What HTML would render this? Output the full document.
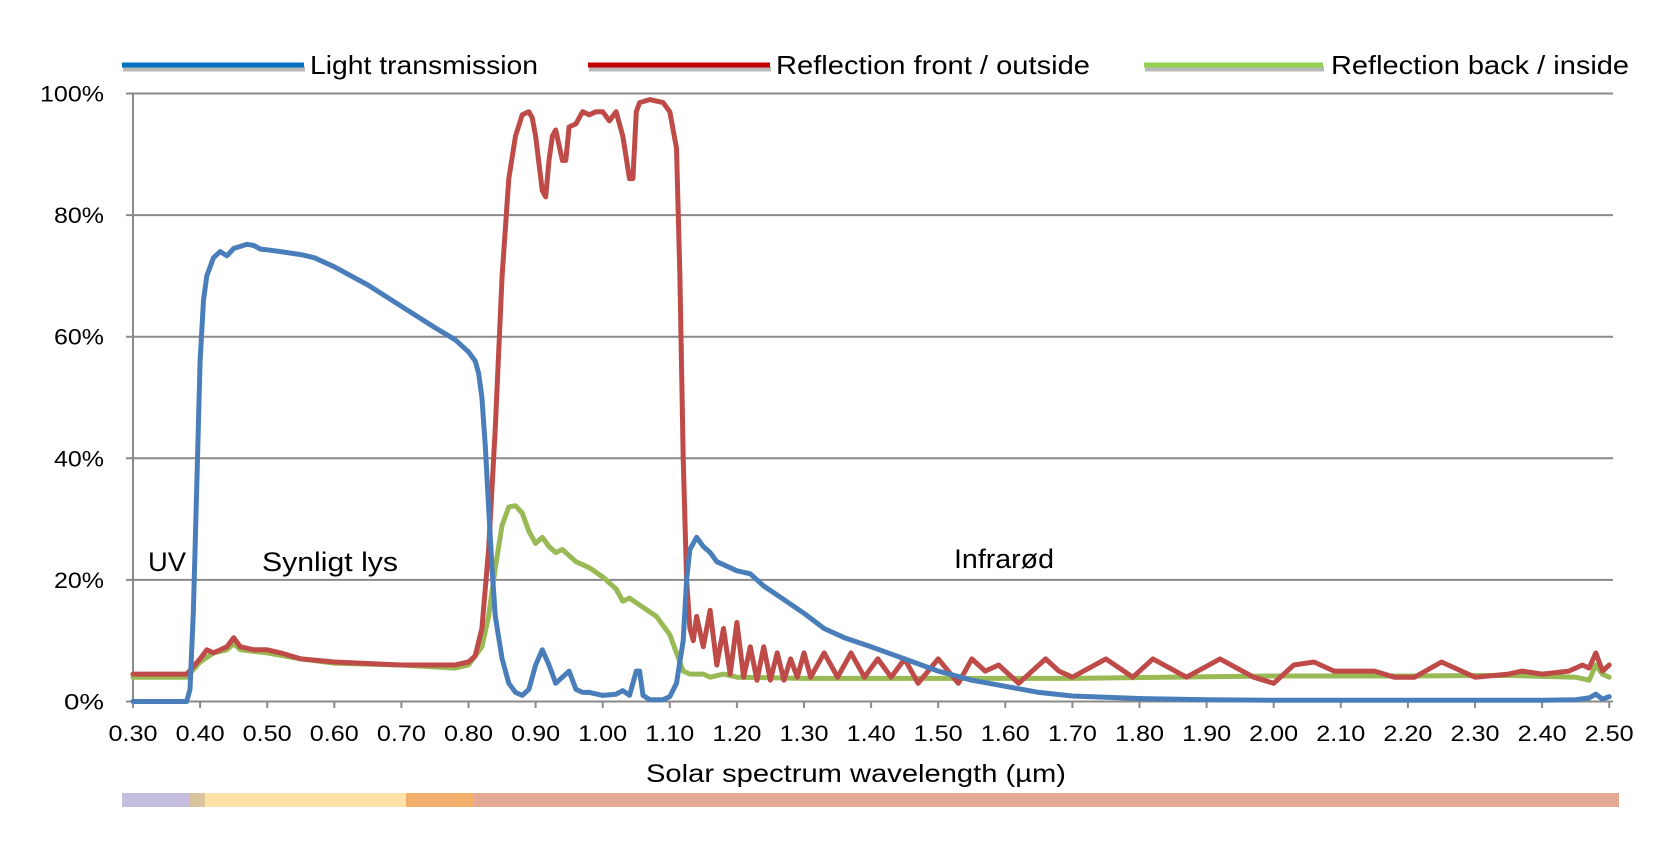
<!DOCTYPE html>
<html><head><meta charset="utf-8"><style>
html,body{margin:0;padding:0;background:#fff}
svg{display:block}
text{font-family:"Liberation Sans",sans-serif;fill:#000}
</style></head><body>
<svg id="s" width="1680" height="860" viewBox="0 0 1680 860" xmlns="http://www.w3.org/2000/svg">
<g id="grid"></g>
<!-- legend -->
<line x1="123" y1="69" x2="305" y2="69" stroke="#b8b8b8" stroke-width="5"/>
<line x1="122" y1="65" x2="304" y2="65" stroke="#0070c0" stroke-width="5"/>
<text x="310" y="74" font-size="26" textLength="228" lengthAdjust="spacingAndGlyphs">Light transmission</text>
<line x1="589" y1="69" x2="771" y2="69" stroke="#b8b8b8" stroke-width="5"/>
<line x1="588" y1="65" x2="770" y2="65" stroke="#c00000" stroke-width="5"/>
<text x="776" y="74" font-size="26" textLength="314" lengthAdjust="spacingAndGlyphs">Reflection front / outside</text>
<line x1="1145" y1="69" x2="1324" y2="69" stroke="#b8b8b8" stroke-width="5"/>
<line x1="1144" y1="65" x2="1323" y2="65" stroke="#92d050" stroke-width="5"/>
<text x="1331" y="74" font-size="26" textLength="298" lengthAdjust="spacingAndGlyphs">Reflection back / inside</text>
<!-- annotations -->
<text x="148" y="571" font-size="27" fill="#222" textLength="38" lengthAdjust="spacingAndGlyphs">UV</text>
<text x="262" y="571" font-size="27" fill="#222" textLength="136" lengthAdjust="spacingAndGlyphs">Synligt lys</text>
<text x="954" y="568" font-size="27" fill="#222" textLength="100" lengthAdjust="spacingAndGlyphs">Infrarød</text>
<text x="856" y="782" font-size="25" text-anchor="middle" textLength="420" lengthAdjust="spacingAndGlyphs">Solar spectrum wavelength (µm)</text>
<!-- spectrum bar -->
<rect x="122" y="793" width="68" height="14" fill="#c5bde0"/>
<rect x="190" y="793" width="15" height="14" fill="#dcc3a0"/>
<rect x="205" y="793" width="201" height="14" fill="#fde3a7"/>
<rect x="406" y="793" width="68" height="14" fill="#f0b06b"/>
<rect x="474" y="793" width="1145" height="14" fill="#e4a893"/>
<g id="series" fill="none" stroke-width="5" stroke-linejoin="round" stroke-linecap="round"></g>
</svg>
<script>
var NS="http://www.w3.org/2000/svg";
function X(l){return 133+(l-0.3)*671;}
function Y(v){return 701.5-v*6.08;}
function el(t,a,p,txt){var e=document.createElementNS(NS,t);for(var k in a)e.setAttribute(k,a[k]);if(txt!==undefined)e.textContent=txt;p.appendChild(e);return e;}
var g=document.getElementById('grid');
for(var i=0;i<=5;i++){var y=Y(i*20);
 el('line',{x1:126,y1:y,x2:1613,y2:y,stroke:'#8a8a8a','stroke-width':2},g);
 el('text',{x:104,y:y+8,'font-size':22,'text-anchor':'end',textLength:(i==5?64:(i==0?40:50)),lengthAdjust:'spacingAndGlyphs'},g,(i*20)+'%');}
el('line',{x1:133,y1:93,x2:133,y2:702,stroke:'#8a8a8a','stroke-width':2},g);
for(var i=0;i<=22;i++){var l=0.3+i*0.1,x=X(l);
 el('line',{x1:x,y1:701,x2:x,y2:708,stroke:'#8a8a8a','stroke-width':2},g);
 el('text',{x:x,y:741,'font-size':22,'text-anchor':'middle',textLength:49,lengthAdjust:'spacingAndGlyphs'},g,l.toFixed(2));}
var blue=[0.30,0,0.38,0,0.385,2,0.39,15,0.395,35,0.40,56,0.405,66,0.41,70,0.42,73,0.43,74,0.44,73.3,0.45,74.5,0.47,75.2,0.48,75,0.49,74.4,0.50,74.3,0.52,74,0.55,73.5,0.57,73,0.60,71.5,0.65,68.5,0.70,65,0.75,61.5,0.78,59.5,0.80,57.5,0.81,56,0.815,54,0.82,50,0.825,42,0.83,32,0.835,22,0.84,14,0.85,7,0.86,3,0.87,1.5,0.88,1,0.89,2,0.90,6,0.91,8.5,0.92,6,0.93,3,0.94,4,0.95,5,0.96,2,0.97,1.5,0.98,1.5,1.0,1,1.02,1.2,1.03,1.8,1.04,1,1.05,5,1.055,5,1.06,1,1.07,0.3,1.09,0.3,1.10,0.8,1.11,3,1.12,10,1.125,20,1.13,25,1.14,27,1.15,25.5,1.16,24.5,1.17,23,1.18,22.5,1.20,21.5,1.22,21,1.24,19,1.26,17.5,1.28,16,1.30,14.5,1.33,12,1.36,10.5,1.40,9,1.45,7,1.50,5,1.55,3.5,1.60,2.5,1.65,1.5,1.70,0.9,1.80,0.5,1.90,0.3,2.0,0.2,2.4,0.2,2.45,0.3,2.47,0.6,2.48,1.2,2.49,0.4,2.50,0.8];
var red=[0.30,4.5,0.38,4.5,0.40,7,0.41,8.5,0.42,8,0.44,9,0.45,10.5,0.46,9,0.48,8.5,0.50,8.5,0.52,8,0.55,7,0.60,6.5,0.70,6,0.78,6,0.80,6.5,0.81,7.5,0.82,12,0.83,25,0.84,45,0.85,70,0.86,86,0.87,93,0.88,96.5,0.89,97,0.895,96,0.90,93,0.91,84,0.915,83,0.92,89,0.925,93,0.93,94,0.94,89,0.945,89,0.95,94.5,0.96,95,0.97,97,0.98,96.5,0.99,97,1.0,97,1.01,95.5,1.02,97,1.03,93,1.04,86,1.045,86,1.05,97,1.055,98.5,1.07,99,1.09,98.5,1.10,97,1.11,91,1.115,70,1.12,40,1.125,20,1.13,12,1.135,10,1.14,14,1.15,9,1.16,15,1.17,6,1.18,12,1.19,4.5,1.20,13,1.21,4,1.22,9,1.23,3.5,1.24,9,1.25,3.5,1.26,8,1.27,3.5,1.28,7,1.29,4,1.30,8,1.31,4,1.33,8,1.35,4,1.37,8,1.39,4,1.41,7,1.43,4,1.45,7,1.47,3,1.50,7,1.53,3,1.55,7,1.57,5,1.59,6,1.62,3,1.66,7,1.68,5,1.70,4,1.75,7,1.79,4,1.82,7,1.87,4,1.92,7,1.97,4,2.0,3,2.03,6,2.06,6.5,2.09,5,2.15,5,2.18,4,2.21,4,2.25,6.5,2.28,5,2.30,4,2.35,4.5,2.37,5,2.40,4.5,2.44,5,2.46,6,2.47,5.5,2.48,8,2.49,5,2.50,6];
var green=[0.30,4,0.38,4,0.40,6.5,0.42,8,0.44,8.5,0.45,9.5,0.46,8.5,0.50,8,0.55,7,0.60,6.3,0.70,6,0.78,5.5,0.80,6,0.82,9,0.83,14,0.84,22,0.85,29,0.86,32,0.87,32.2,0.88,31,0.89,28,0.90,26,0.91,27,0.92,25.5,0.93,24.5,0.94,25,0.95,24,0.96,23,0.98,22,1.0,20.5,1.02,18.5,1.03,16.5,1.04,17,1.06,15.5,1.08,14,1.10,11,1.11,8,1.12,5,1.13,4.5,1.15,4.5,1.16,4,1.18,4.5,1.20,4,1.30,3.8,1.5,3.8,1.7,3.8,2.0,4.2,2.2,4.2,2.35,4.3,2.45,4,2.47,3.5,2.48,6,2.49,4.5,2.50,4];
var sg=document.getElementById('series');
[[green,'#98b954'],[red,'#be4b48'],[blue,'#4a7ebb']].forEach(function(s){
 var d='',a=s[0];for(var i=0;i<a.length;i+=2)d+=(i?'L':'M')+X(a[i]).toFixed(1)+' '+Y(a[i+1]).toFixed(1);
 el('path',{d:d,stroke:s[1]},sg);});
</script>
</body></html>
